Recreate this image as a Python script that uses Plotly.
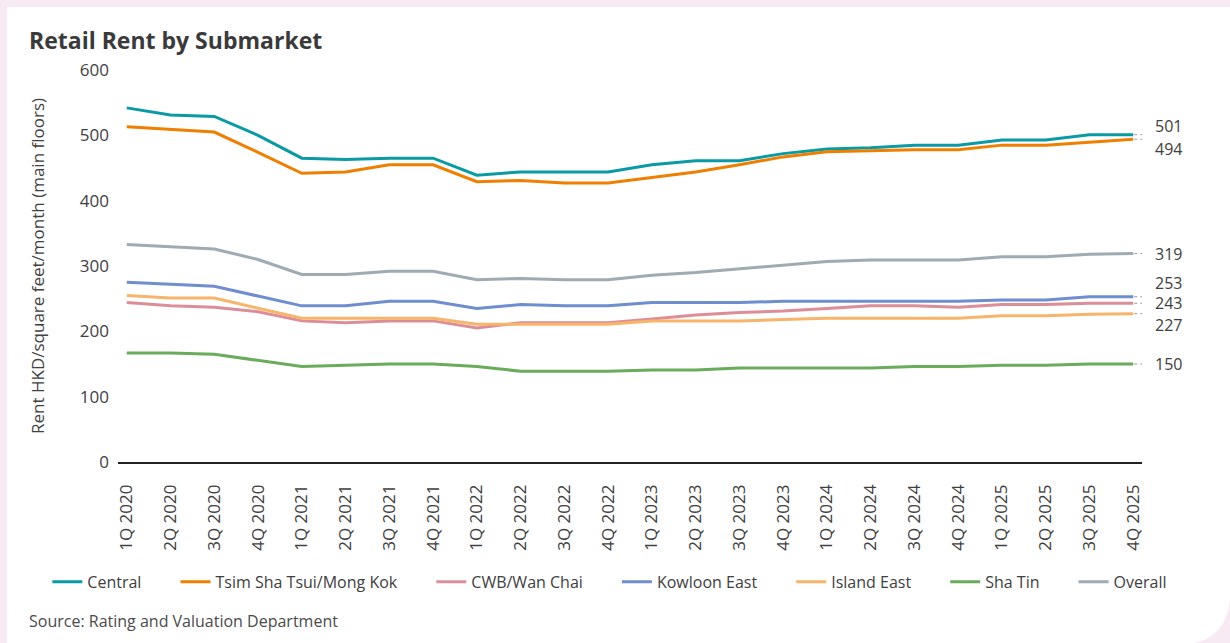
import plotly.graph_objects as go

quarters = [f"{q}Q {y}" for y in range(2020, 2026) for q in range(1, 5)]

central = [542, 531, 529, 500, 465, 463, 465, 465, 439, 444, 444, 444,
           455, 461, 461, 472, 479, 481, 485, 485, 493, 493, 501, 501]
tst = [513, 509, 505, 474, 442, 444, 455, 455, 429, 431, 427, 427,
       435, 444, 455, 467, 475, 477, 478, 478, 485, 485, 489, 494]
cwb = [244, 239, 237, 230, 216, 213, 216, 216, 205, 213, 213, 213,
       219, 225, 229, 231, 235, 239, 239, 237, 241, 241, 243, 243]
kowloon_east = [275, 272, 269, 254, 239, 239, 246, 246, 235, 241, 239, 239,
                244, 244, 244, 246, 246, 246, 246, 246, 248, 248, 253, 253]
island_east = [255, 251, 251, 236, 220, 220, 220, 220, 211, 211, 211, 211,
               216, 216, 216, 218, 220, 220, 220, 220, 224, 224, 226, 227]
sha_tin = [167, 167, 165, 155, 146, 148, 150, 150, 146, 139, 139, 139,
           141, 141, 144, 144, 144, 144, 146, 146, 148, 148, 150, 150]
overall = [333, 329, 326, 310, 287, 287, 292, 292, 279, 281, 279, 279,
           286, 290, 296, 301, 307, 309, 309, 309, 314, 314, 318, 319]

series_names = ["Central", "Tsim Sha Tsui/Mong Kok", "CWB/Wan Chai", "Kowloon East",
                "Island East", "Sha Tin", "Overall"]
series_values = [central, tst, cwb, kowloon_east, island_east, sha_tin, overall]
series_colors = ["#0a9aa4", "#ef7f00", "#dc8e98", "#6f8dcf", "#f7b46a", "#6aab5c", "#9eabb3"]
# end-label vertical offsets (px, positive = up)
label_offsets = [9, -10, 0, 14, -11, 0, 0]

FONT = "Open Sans"
TXT = "#404040"

fig = go.Figure()
n = len(series_names)
for i, (name, vals, col) in enumerate(zip(series_names, series_values, series_colors)):
    pad = "" if i == n - 1 else "\u00a0" * 7
    fig.add_trace(go.Scatter(
        x=quarters, y=vals, name=name + pad, mode="lines",
        line=dict(color=col, width=3)))

annotations = []
shapes = []
last_x = quarters[-1]
for vals, off in zip(series_values, label_offsets):
    v = vals[-1]
    annotations.append(dict(
        x=last_x, y=v, xref="x", yref="y", text=str(v), showarrow=False,
        xanchor="left", yanchor="middle", xshift=21, yshift=off,
        font=dict(family=FONT, size=16, color=TXT), borderpad=0))
    if abs(off) <= 1:
        path = "M 1 0 L 22 0"
    else:
        path = f"M 1 0 L 13 0 L 21 {off}"
    shapes.append(dict(
        type="path", xref="x", yref="y", xsizemode="pixel", ysizemode="pixel",
        xanchor=last_x, yanchor=v, path=path,
        line=dict(color="#9a9a9a", width=1, dash="dot")))

# white card on pink page background
shapes.insert(0, dict(
    type="path", xref="paper", yref="paper", layer="below",
    path="M -0.1084 1.1607 L 1.0859 1.1607 L 1.0859 -0.3390 "
         "C 1.0859 -0.4200 1.0650 -0.4617 1.0469 -0.4617 L -0.1084 -0.4617 Z",
    fillcolor="white", line=dict(width=0)))

annotations.append(dict(
    xref="paper", yref="paper", x=-0.0889, y=1.0765, xanchor="left", yanchor="middle",
    text="<b>Retail Rent by Submarket</b>", showarrow=False,
    font=dict(family=FONT, size=23, color="#3a3a3a")))
annotations.append(dict(
    xref="paper", yref="paper", x=-0.0889, y=-0.4056, xanchor="left", yanchor="middle",
    text="Source: Rating and Valuation Department", showarrow=False,
    font=dict(family=FONT, size=16, color="#4a4a4a")))

fig.update_layout(
    width=1230, height=643,
    margin=dict(l=118, r=88, t=70, b=181),
    paper_bgcolor="#f8eaf3", plot_bgcolor="rgba(0,0,0,0)",
    font=dict(family=FONT, size=17, color=TXT),
    showlegend=True,
    legend=dict(orientation="h", x=-0.0690, y=-0.3060, xanchor="left", yanchor="middle",
                font=dict(family=FONT, size=16, color=TXT), bgcolor="rgba(0,0,0,0)",
                itemwidth=30, tracegroupgap=0),
    shapes=shapes,
    annotations=annotations,
)
fig.update_xaxes(type="category", range=[-0.2, 23.2], tickangle=-90,
                 showgrid=False, zeroline=False, showline=True, linecolor="#222222",
                 linewidth=1.5, ticks="", ticklabelstandoff=14,
                 tickfont=dict(family=FONT, size=17, color=TXT))
fig.update_yaxes(range=[0, 600], tickvals=[0, 100, 200, 300, 400, 500, 600],
                 showgrid=False, zeroline=False, showline=False, ticks="",
                 ticklabelstandoff=8, tickfont=dict(family=FONT, size=17, color=TXT),
                 title=dict(text="Rent HKD/square feet/month (main floors)",
                            font=dict(family=FONT, size=17, color=TXT), standoff=30))

fig.write_html("out.html")
